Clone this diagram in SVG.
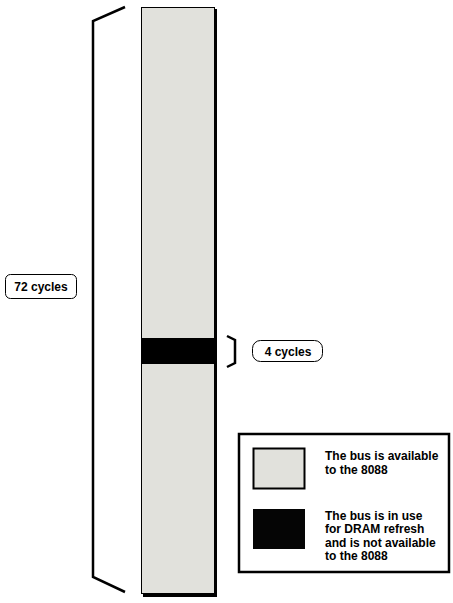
<svg xmlns="http://www.w3.org/2000/svg" width="453" height="603" viewBox="0 0 453 603">
<style>
.t{font-family:"Liberation Sans",Arial,sans-serif;font-weight:bold;font-size:12px;fill:#000}
.br{fill:none;stroke:#000;stroke-width:2.5}
.lbl{fill:#fff;stroke:#000;stroke-width:1}
</style>
<rect width="453" height="603" fill="#fff"/>
<g id="bar">
<rect x="143" y="9" width="74" height="588" fill="#000"/>
<rect x="141.5" y="7.5" width="73" height="586" fill="#e1e1dc" stroke="#000" stroke-width="1"/>
<rect x="142" y="338" width="73" height="26" fill="#000"/>
</g>
<g id="connectors">
<path class="br" d="M125,7 L93,21 L93,577 L125,592"/>
<path class="br" d="M227,336 L235,340 L235,363 L227,367" stroke-width="1.8"/>
</g>
<g id="label72">
<rect class="lbl" x="5.5" y="274.5" width="71" height="24" rx="5"/>
<text class="t" x="41" y="291" text-anchor="middle">72 cycles</text>
</g>
<g id="label4">
<rect class="lbl" x="252.5" y="340.5" width="70" height="21" rx="8"/>
<text class="t" x="288" y="356" text-anchor="middle">4 cycles</text>
</g>
<g id="legend">
<rect x="239" y="434" width="210" height="138" fill="#fff" stroke="#000" stroke-width="2.5"/>
<rect x="253.5" y="448.5" width="51" height="40" fill="#e1e1dc" stroke="#000" stroke-width="2"/>
<rect x="253" y="509" width="52" height="40" fill="#050505"/>
<text class="t" x="325" y="460">The bus is available</text>
<text class="t" x="325" y="474">to the 8088</text>
<text class="t" x="325" y="520">The bus is in use</text>
<text class="t" x="325" y="533">for DRAM refresh</text>
<text class="t" x="325" y="547">and is not available</text>
<text class="t" x="325" y="560">to the 8088</text>
</g>
</svg>
